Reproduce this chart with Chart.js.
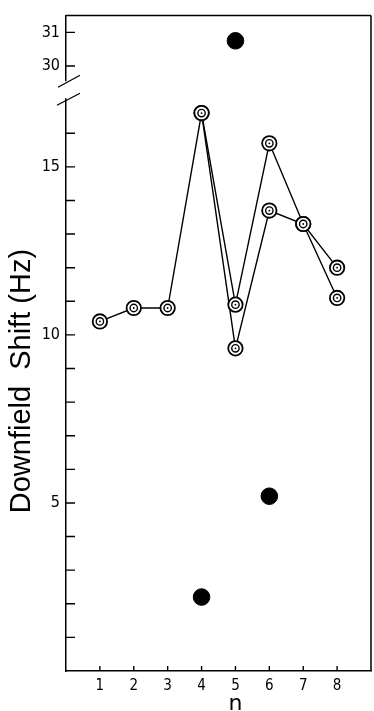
<!DOCTYPE html>
<html lang="en">
<head>
    <meta charset="UTF-8">
    <title>Downfield Shift vs n</title>
    <style>
        html, body { margin: 0; padding: 0; background: #fff; overflow: hidden; }
        #shift-chart { display: block; }
    </style>
</head>
<body>
    <canvas id="shift-chart" width="374" height="711"></canvas>

    <script src="https://cdn.jsdelivr.net/npm/chart.js"></script>
    <script>
        // values
        const nValues = [1, 2, 3, 4, 5, 6, 7, 8];
        const shiftUpper = [10.4, 10.8, 10.8, 16.6, 10.9, 15.7, 13.3, 11.1];
        const shiftLower = [null, null, null, 16.6, 9.6, 13.7, 13.3, 12.0];
        const filledN = [4, 6];
        const filledShift = [2.2, 5.2];
        const topN = [5];
        const topShift = [30.75];
        const yLabels = [5, 10, 15, 30, 31];
        const xLabels = [1, 2, 3, 4, 5, 6, 7, 8];
        const xTitle = 'n';

        function toPoints(xs, ys) {
            return xs.map((x, i) => ({ x: x, y: ys[i] })).filter(p => p.y !== null);
        }

        // double circle markers, drawn on top of every line
        const ringPlugin = {
            id: 'rings',
            afterDatasetsDraw(chart) {
                const ctx = chart.ctx;
                ctx.save();
                chart.data.datasets.forEach((ds, i) => {
                    if (!ds.ring) return;
                    chart.getDatasetMeta(i).data.forEach(pt => {
                        ctx.fillStyle = '#fff';
                        ctx.beginPath(); ctx.arc(pt.x, pt.y, 7.6, 0, Math.PI * 2); ctx.fill();
                        ctx.strokeStyle = '#000';
                        ctx.lineWidth = 1.8;
                        ctx.beginPath(); ctx.arc(pt.x, pt.y, 7.2, 0, Math.PI * 2); ctx.stroke();
                        ctx.lineWidth = 1.4;
                        ctx.beginPath(); ctx.arc(pt.x, pt.y, 3.7, 0, Math.PI * 2); ctx.stroke();
                        ctx.fillStyle = '#000';
                        ctx.beginPath(); ctx.arc(pt.x, pt.y, 0.9, 0, Math.PI * 2); ctx.fill();
                    });
                });
                ctx.restore();
            }
        };

        // inward ticks, frame, axis break and the x title under n = 5
        const framePlugin = {
            id: 'frame',
            afterDraw(chart) {
                const ctx = chart.ctx;
                const a = chart.chartArea;
                const sx = chart.scales.x, sy = chart.scales.y, st = chart.scales.yTop;
                ctx.save();
                ctx.strokeStyle = '#000';
                ctx.lineWidth = 1.5;
                ctx.beginPath();
                ctx.moveTo(a.left, a.top); ctx.lineTo(a.right, a.top);
                ctx.moveTo(a.right, a.top); ctx.lineTo(a.right, a.bottom);
                ctx.stroke();

                ctx.lineWidth = 1.4;
                ctx.beginPath();
                sy.ticks.forEach(t => {
                    if (t.value <= 0 || t.value >= 17) return;
                    const py = sy.getPixelForValue(t.value);
                    ctx.moveTo(a.left, py); ctx.lineTo(a.left + 9, py);
                });
                st.ticks.forEach(t => {
                    if (t.value !== 30 && t.value !== 31) return;
                    const py = st.getPixelForValue(t.value);
                    ctx.moveTo(a.left, py); ctx.lineTo(a.left + 9, py);
                });
                sx.ticks.forEach(t => {
                    if (t.value < 1 || t.value > 8) return;
                    const px = sx.getPixelForValue(t.value);
                    ctx.moveTo(px, a.bottom); ctx.lineTo(px, a.bottom - 5);
                });
                ctx.stroke();

                // break in the y axis
                const by = sy.top;
                ctx.fillStyle = '#fff';
                ctx.fillRect(a.left - 3, by - 10, 6, 17);
                ctx.lineWidth = 1.3;
                ctx.beginPath();
                ctx.moveTo(a.left - 8, by - 4); ctx.lineTo(a.left + 14, by - 16);
                ctx.moveTo(a.left - 9, by + 14); ctx.lineTo(a.left + 14, by + 2);
                ctx.stroke();

                ctx.fillStyle = '#000';
                ctx.font = '22px "DejaVu Sans"';
                ctx.textAlign = 'center';
                ctx.textBaseline = 'alphabetic';
                ctx.fillText(xTitle, sx.getPixelForValue(5), 710);
                ctx.restore();
            }
        };

        const tickFont = { family: 'DejaVu Sans Condensed', size: 16 };
        const noGrid = { display: false, drawTicks: false, tickLength: 0 };

        const ctx = document.getElementById('shift-chart').getContext('2d');
        new Chart(ctx, {
            type: 'scatter',
            data: {
                datasets: [
                    {
                        data: toPoints(nValues, shiftUpper),
                        yAxisID: 'y',
                        showLine: true,
                        ring: true,
                        borderColor: '#000',
                        borderWidth: 1.4,
                        pointRadius: 0,
                        tension: 0
                    },
                    {
                        data: toPoints(nValues, shiftLower),
                        yAxisID: 'y',
                        showLine: true,
                        ring: true,
                        borderColor: '#000',
                        borderWidth: 1.4,
                        pointRadius: 0,
                        tension: 0
                    },
                    {
                        data: toPoints(filledN, filledShift),
                        yAxisID: 'y',
                        pointRadius: 8.3,
                        backgroundColor: '#000',
                        borderColor: '#000'
                    },
                    {
                        data: toPoints(topN, topShift),
                        yAxisID: 'yTop',
                        pointRadius: 8.3,
                        backgroundColor: '#000',
                        borderColor: '#000'
                    }
                ]
            },
            options: {
                responsive: false,
                animation: false,
                layout: { autoPadding: false, padding: { top: 12, right: 3, left: 0, bottom: 0 } },
                plugins: {
                    legend: { display: false },
                    tooltip: { enabled: false }
                },
                scales: {
                    x: {
                        type: 'linear',
                        min: 0,
                        max: 9,
                        grid: noGrid,
                        border: { display: true, color: '#000', width: 1.5 },
                        ticks: {
                            stepSize: 1,
                            autoSkip: false,
                            color: '#000',
                            padding: 6,
                            font: { family: 'DejaVu Sans Condensed', size: 15 },
                            callback: v => xLabels.includes(v) ? String(v) : ''
                        },
                        afterFit: s => {
                            s.height = 40;
                            s.paddingLeft = 0;
                            s.paddingRight = 0;
                        }
                    },
                    y: {
                        type: 'linear',
                        position: 'left',
                        stack: 'shift',
                        stackWeight: 17.25,
                        min: 0,
                        max: 17.25,
                        grid: noGrid,
                        border: { display: true, color: '#000', width: 1.5 },
                        ticks: {
                            stepSize: 1,
                            autoSkip: false,
                            includeBounds: false,
                            color: '#000',
                            padding: 6,
                            font: tickFont,
                            callback: v => yLabels.includes(v) ? String(v) : ''
                        },
                        title: {
                            display: true,
                            text: 'Downfield  Shift (Hz)',
                            color: '#000',
                            font: { family: 'Liberation Sans', size: 29 },
                            padding: { top: 5, bottom: 0 }
                        },
                        afterFit: s => { s.width = 66; }
                    },
                    yTop: {
                        type: 'linear',
                        position: 'left',
                        stack: 'shift',
                        stackWeight: 2.25,
                        min: 29.25,
                        max: 31.5,
                        grid: noGrid,
                        border: { display: true, color: '#000', width: 1.5 },
                        ticks: {
                            stepSize: 1,
                            autoSkip: false,
                            includeBounds: false,
                            color: '#000',
                            padding: 6,
                            font: tickFont,
                            callback: v => yLabels.includes(v) ? String(v) : ''
                        },
                        afterFit: s => { s.width = 66; }
                    }
                }
            },
            plugins: [ringPlugin, framePlugin]
        });
    </script>
</body>
</html>
